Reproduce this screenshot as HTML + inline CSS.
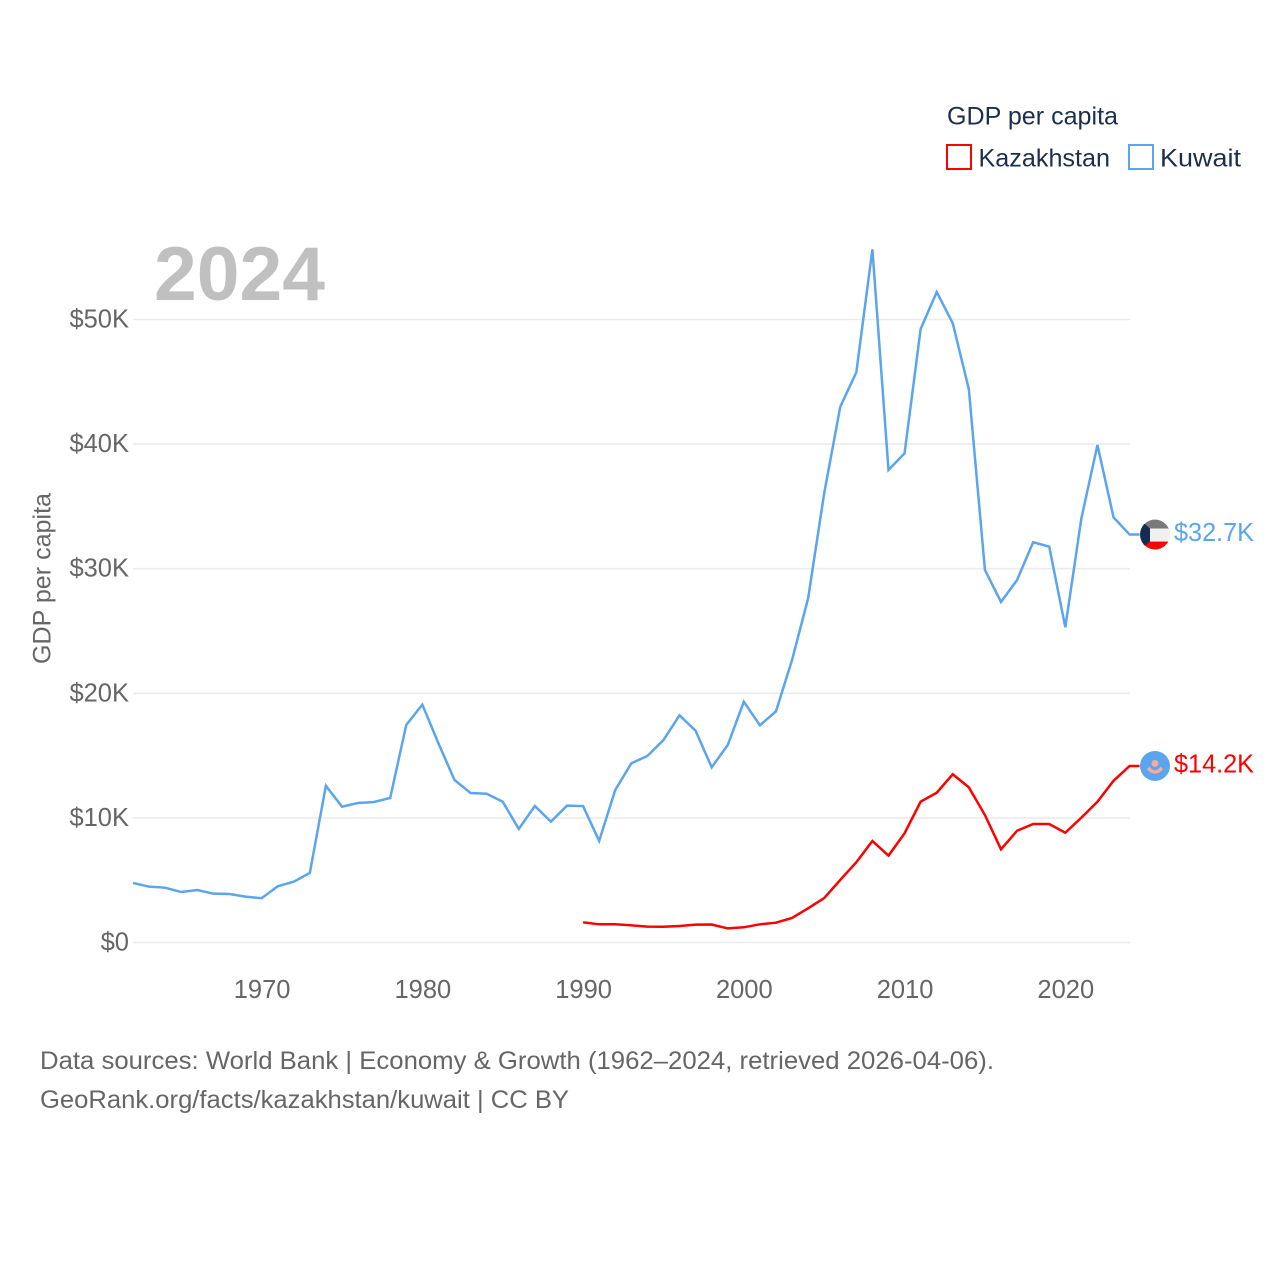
<!DOCTYPE html>
<html lang="en">
<head>
<meta charset="utf-8">
<title>GDP per capita: Kazakhstan and Kuwait</title>
<style>
html,body{margin:0;padding:0;background:#fff;}
svg{display:block;}
text{font-family:"Liberation Sans",sans-serif;}
.tick{font-size:25.5px;fill:#666;}
</style>
</head>
<body>
<svg id="chart" xmlns="http://www.w3.org/2000/svg" width="1280" height="1280" viewBox="0 0 1280 1280">
  <defs>
    <clipPath id="flag-clip"><circle cx="0" cy="0" r="15"/></clipPath>
  </defs>
  <rect width="1280" height="1280" fill="#fff"/>

  <g id="grid"></g>
  <g id="y-ticks"></g>
  <g id="x-ticks"></g>

  <text x="154" y="300" font-size="76" font-weight="700" fill="#c0c0c0" textLength="171" lengthAdjust="spacingAndGlyphs">2024</text>

  <text transform="translate(50.5,664) rotate(-90)" font-size="25" fill="#666" textLength="171" lengthAdjust="spacingAndGlyphs">GDP per capita</text>

  <g id="series"></g>

  <g id="flag-kuwait">
    <g clip-path="url(#flag-clip)">
      <rect x="-15" y="-15" width="30" height="9" fill="#7a7a7a"/>
      <rect x="-15" y="-6" width="30" height="13" fill="#f0f0f0"/>
      <rect x="-15" y="7" width="30" height="8" fill="#ff0000"/>
      <polygon points="-15,-15 -5,-6 -5,7 -15,15" fill="#152c50"/>
    </g>
  </g>
  <g id="flag-kazakhstan">
    <circle cx="0" cy="0" r="15" fill="#5ba4ee"/>
    <circle cx="0" cy="-2.5" r="3.5" fill="#f5ab9a"/>
    <path d="M-7,2 Q0,10 7,2" fill="none" stroke="#f5ab9a" stroke-width="3.5"/>
  </g>
  <text id="label-kuwait" x="1174" font-size="25.5" fill="#5ba4ee" textLength="80" lengthAdjust="spacingAndGlyphs"></text>
  <text id="label-kazakhstan" x="1174" font-size="25.5" fill="#ff0000" textLength="80" lengthAdjust="spacingAndGlyphs"></text>

  <g>
    <text x="947" y="124.5" font-size="25" fill="#1b2e4e" textLength="171" lengthAdjust="spacingAndGlyphs">GDP per capita</text>
    <g>
      <rect x="947" y="145" width="24" height="24" fill="none" stroke="#ff0000" stroke-width="2"/>
      <text x="978.5" y="166.5" font-size="25" fill="#1b2e4e" textLength="131.5" lengthAdjust="spacingAndGlyphs">Kazakhstan</text>
    </g>
    <g>
      <rect x="1129" y="145" width="24" height="24" fill="none" stroke="#5ba4ee" stroke-width="2"/>
      <text x="1160" y="166.5" font-size="25" fill="#1b2e4e" textLength="81" lengthAdjust="spacingAndGlyphs">Kuwait</text>
    </g>
  </g>

  <text x="40" y="1069" font-size="25" fill="#666" textLength="954" lengthAdjust="spacingAndGlyphs">Data sources: World Bank | Economy &amp; Growth (1962–2024, retrieved 2026-04-06).</text>
  <text x="40" y="1108" font-size="25" fill="#666" textLength="529" lengthAdjust="spacingAndGlyphs">GeoRank.org/facts/kazakhstan/kuwait | CC BY</text>
</svg>
<script>
const kuwaitStartYear = 1962;
const kuwaitValues = [4.78,4.48,4.40,4.05,4.21,3.92,3.89,3.68,3.55,4.51,4.88,5.58,12.58,10.9,11.2,11.28,11.6,17.46,19.09,15.99,13.04,12.0,11.94,11.3,9.11,10.95,9.7,10.98,10.95,8.15,12.24,14.38,14.97,16.25,18.23,17.0,14.06,15.85,19.33,17.43,18.55,22.67,27.62,36.05,43.0,45.76,55.63,37.92,39.26,49.24,52.2,49.69,44.4,29.9,27.33,29.09,32.12,31.77,25.3,34.04,39.93,34.12,32.74];
const kazakhstanStartYear = 1990;
const kazakhstanValues = [1.62,1.46,1.46,1.38,1.27,1.26,1.32,1.43,1.44,1.13,1.22,1.46,1.59,1.97,2.74,3.57,5.02,6.44,8.15,6.97,8.76,11.3,12.02,13.5,12.45,10.23,7.48,8.97,9.51,9.51,8.81,10.02,11.3,12.98,14.17];
const yTickValues = [0,10,20,30,40,50];
const yTickLabels = ["$0","$10K","$20K","$30K","$40K","$50K"];
const xTickYears = [1970,1980,1990,2000,2010,2020];

const NS = "http://www.w3.org/2000/svg";
function xScale(year){ return 133 + (year - 1962) * (1129.6 - 133) / 62; }
function yScale(value){ return 942.5 - value * 12.46; }
function make(tag, attrs, parent){
  const el = document.createElementNS(NS, tag);
  for (const k in attrs) el.setAttribute(k, attrs[k]);
  parent.appendChild(el);
  return el;
}

const grid = document.getElementById("grid");
const yTicks = document.getElementById("y-ticks");
yTickValues.forEach(function(v, i){
  const line = make("line", {x1:133, x2:1130, y1:yScale(v), y2:yScale(v), stroke:"#ececec", "stroke-width":1.6}, grid);
  
  
  const t = make("text", {x:129, y:yScale(v) + 8, "text-anchor":"end", class:"tick"}, yTicks);
  
  
  t.textContent = yTickLabels[i];
});

const xTicks = document.getElementById("x-ticks");
xTickYears.forEach(function(y){
  const t = make("text", {x:xScale(y) + 0.5, y:998, "text-anchor":"middle", class:"tick"}, xTicks);
  
  
  t.textContent = String(y);
});

function pathFor(values, startYear){
  const pts = values.map(function(v, i){ return xScale(startYear + i).toFixed(2) + "," + yScale(v).toFixed(2); });
  const last = values[values.length - 1];
  pts.push((xScale(startYear + values.length - 1) + 10).toFixed(2) + "," + yScale(last).toFixed(2));
  return "M" + pts.join("L");
}
const series = document.getElementById("series");
const kuwaitLine = make("path", {d:pathFor(kuwaitValues, kuwaitStartYear), fill:"none", stroke:"#5ba4ee", "stroke-width":2.5, "stroke-linejoin":"miter"}, series);


const kazakhstanLine = make("path", {d:pathFor(kazakhstanValues, kazakhstanStartYear), fill:"none", stroke:"#ff0000", "stroke-width":2.5, "stroke-linejoin":"miter"}, series);



function placeEnd(values, flagId, labelId){
  const last = values[values.length - 1];
  const y = yScale(last);
  document.getElementById(flagId).setAttribute("transform", "translate(1155," + y.toFixed(2) + ")");
  const label = document.getElementById(labelId);
  label.setAttribute("y", (y + 6.5).toFixed(2));
  label.textContent = "$" + last.toFixed(1) + "K";
}
placeEnd(kuwaitValues, "flag-kuwait", "label-kuwait");
placeEnd(kazakhstanValues, "flag-kazakhstan", "label-kazakhstan");
</script>
</body>
</html>
